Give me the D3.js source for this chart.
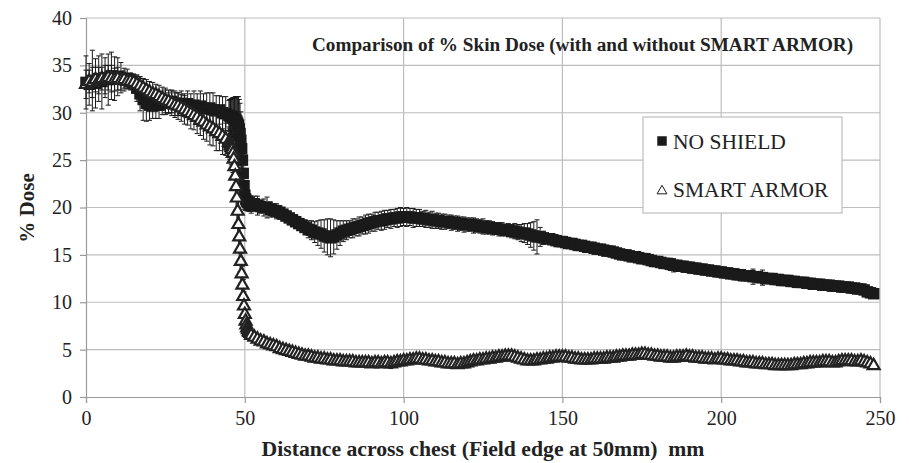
<!DOCTYPE html>
<html>
<head>
<meta charset="utf-8">
<title>Comparison of % Skin Dose</title>
<script src="https://cdn.jsdelivr.net/npm/d3@7"></script>
<style>
  body { margin: 0; background: #fff; }
  svg text { font-family: "Liberation Serif", "Times New Roman", serif; fill: #222; }
</style>
</head>
<body>
<svg id="chart" width="909" height="463"></svg>
<script>
// distance across chest (mm) - finer sampling around the field edge
const distance = [
  0,1,2,3,4,5,6,7,8,9,10,11,12,13,14,15,16,17,18,19,20,21,22,23,24,25,26,27,28,29,
  30,31,32,33,34,35,36,37,38,39,40,41,42,43,44,45,
  45.25,45.5,45.75,46,46.25,46.5,46.75,47,47.25,47.5,47.75,48,48.25,48.5,48.75,49,
  49.25,49.5,49.75,50,50.25,50.5,50.75,51,51.25,51.5,51.75,
  52,53,54,55,56,57,58,59,60,61,62,63,64,65,66,67,68,69,70,71,
  72,73,74,75,76,77,78,79,80,81,82,83,84,85,86,87,88,89,90,91,
  92,93,94,95,96,97,98,99,100,101,102,103,104,105,106,107,108,109,110,111,
  112,113,114,115,116,117,118,119,120,121,122,123,124,125,126,127,128,129,130,131,
  132,133,134,135,136,137,138,139,140,141,142,143,144,145,146,147,148,149,150,151,
  152,153,154,155,156,157,158,159,160,161,162,163,164,165,166,167,168,169,170,171,
  172,173,174,175,176,177,178,179,180,181,182,183,184,185,186,187,188,189,190,191,
  192,193,194,195,196,197,198,199,200,201,202,203,204,205,206,207,208,209,210,211,
  212,213,214,215,216,217,218,219,220,221,222,223,224,225,226,227,228,229,230,231,
  232,233,234,235,236,237,238,239,240,241,242,243,244,245,246,247,248
];

// NO SHIELD (% dose) and its error
const noShield = [
  33.2,33.0,33.4,33.1,33.6,33.3,33.7,33.5,33.9,33.6,
  33.8,33.7,33.5,33.6,33.3,33.1,32.6,32.0,31.4,31.0,
  30.8,30.7,30.9,30.8,31.0,31.1,31.0,31.2,31.0,30.9,
  31.0,30.8,30.9,30.7,30.8,30.6,30.7,30.5,30.4,30.5,
  30.3,30.2,30.3,30.0,29.9,29.7,
  29.7,29.6,29.6,29.5,29.5,29.4,29.3,29.3,29.2,29.1,28.9,28.7,28.3,27.8,27.1,26.2,
  25.0,23.6,22.3,21.3,20.9,20.7,20.6,20.5,20.5,20.4,20.4,
  20.3,20.4,20.2,20.1,20.0,20.0,19.8,19.7,19.6,19.5,
  19.3,19.1,18.9,18.7,18.5,18.3,18.1,17.9,17.7,17.6,
  17.4,17.3,17.2,17.0,16.9,16.8,16.9,17.1,17.3,17.5,
  17.6,17.7,17.8,17.9,18.0,18.1,18.2,18.3,18.4,18.5,
  18.6,18.6,18.7,18.8,18.8,18.9,18.9,19.0,19.0,19.0,
  19.0,18.9,18.9,18.9,18.8,18.8,18.7,18.7,18.6,18.6,
  18.5,18.5,18.5,18.4,18.4,18.3,18.3,18.2,18.2,18.2,
  18.1,18.1,18.0,18.0,17.9,17.9,17.8,17.8,17.7,17.7,
  17.6,17.6,17.5,17.5,17.4,17.3,17.3,17.2,17.1,17.0,
  16.9,16.9,16.8,16.7,16.7,16.6,16.5,16.4,16.4,16.3,
  16.2,16.2,16.1,16.0,16.0,15.9,15.8,15.8,15.7,15.6,
  15.6,15.5,15.4,15.4,15.3,15.2,15.1,15.0,15.0,14.9,
  14.8,14.8,14.7,14.6,14.6,14.5,14.4,14.3,14.3,14.2,
  14.1,14.1,14.0,13.9,13.9,13.8,13.8,13.7,13.7,13.6,
  13.6,13.5,13.5,13.4,13.4,13.3,13.3,13.2,13.2,13.1,
  13.1,13.0,13.0,12.9,12.9,12.8,12.8,12.8,12.7,12.7,
  12.6,12.6,12.5,12.5,12.5,12.4,12.4,12.3,12.3,12.3,
  12.2,12.2,12.1,12.1,12.1,12.0,12.0,11.9,11.9,11.9,
  11.8,11.8,11.8,11.7,11.7,11.7,11.6,11.6,11.6,11.5,
  11.5,11.4,11.4,11.3,11.1,11.0,10.9
];
const noShieldErr = [
  2.8,2.2,3.2,2.6,2.4,2.9,2.1,2.7,2.5,2.3,
  2.0,1.6,1.2,1.0,0.9,1.0,1.4,1.8,2.2,1.9,
  1.6,1.3,1.5,1.4,1.2,1.3,1.1,1.2,1.3,1.2,
  1.3,1.2,1.4,1.3,1.5,1.4,1.6,1.5,1.7,1.6,
  1.8,1.6,1.5,1.7,1.8,1.6,
  1.7,1.8,1.9,2.0,2.1,2.2,2.3,2.4,2.5,2.6,2.8,3.0,3.1,3.2,3.0,2.8,
  2.5,2.2,1.8,1.5,1.2,1.0,0.9,0.9,0.8,0.8,0.8,
  0.9,0.8,1.0,0.7,0.9,1.1,0.8,0.7,0.8,0.7,
  0.7,0.6,0.7,0.6,0.6,0.7,0.7,0.8,0.9,1.0,
  1.1,1.3,1.5,1.7,1.9,2.0,1.8,1.5,1.3,1.1,
  1.0,0.9,1.0,0.9,1.0,0.9,1.0,1.0,0.9,1.0,
  0.9,1.0,1.0,0.9,1.0,0.9,1.0,1.0,0.9,1.0,
  0.9,1.0,0.9,0.9,0.8,0.9,0.8,0.9,0.8,0.8,
  0.8,0.8,0.7,0.8,0.7,0.8,0.7,0.8,0.7,0.7,
  0.8,0.7,0.7,0.8,0.7,0.7,0.7,0.6,0.7,0.7,
  0.6,0.7,0.7,0.8,0.8,0.9,1.0,1.1,1.3,1.5,
  1.8,1.0,0.7,0.5,0.4,0.4,0.3,0.3,0.4,0.3,
  0.3,0.3,0.4,0.3,0.3,0.3,0.3,0.4,0.3,0.3,
  0.3,0.4,0.3,0.3,0.3,0.3,0.4,0.3,0.3,0.3,
  0.3,0.3,0.3,0.4,0.3,0.3,0.3,0.3,0.4,0.3,
  0.3,0.3,0.3,0.7,0.3,0.3,0.3,0.4,0.3,0.3,
  0.3,0.3,0.4,0.3,0.3,0.3,0.3,0.3,0.4,0.3,
  0.3,0.3,0.3,0.3,0.4,0.3,0.3,0.3,0.8,0.3,
  0.3,0.8,0.3,0.3,0.3,0.3,0.4,0.3,0.3,0.5,
  0.3,0.3,0.3,0.4,0.3,0.3,0.3,0.3,0.3,0.4,
  0.3,0.3,0.3,0.3,0.3,0.4,0.3,0.3,0.3,0.3,
  0.3,0.3,0.4,0.3,0.3,0.3,0.3
];

// SMART ARMOR (% dose) and its error
const smartArmor = [
  33.0,33.3,33.2,33.5,33.4,33.6,33.5,33.7,33.6,33.5,
  33.6,33.4,33.5,33.3,33.3,33.2,33.0,32.8,32.6,32.4,
  32.2,32.0,31.9,31.7,31.5,31.3,31.2,31.0,30.8,30.7,
  30.5,30.3,30.1,29.9,29.7,29.5,29.2,29.0,28.7,28.5,
  28.3,28.0,27.8,27.5,27.2,26.9,
  26.7,26.5,26.3,26.1,25.7,25.1,24.3,23.3,22.2,21.0,19.6,18.2,16.9,15.6,14.3,13.0,
  11.8,10.6,9.6,8.7,8.0,7.6,7.3,7.1,6.9,6.8,6.7,
  6.5,6.3,6.1,5.9,5.8,5.6,5.5,5.4,5.3,5.1,
  5.0,4.9,4.8,4.7,4.6,4.5,4.4,4.3,4.3,4.2,
  4.1,4.1,4.0,4.0,3.9,3.9,3.8,3.8,3.8,3.7,
  3.7,3.7,3.7,3.6,3.6,3.6,3.6,3.6,3.5,3.6,
  3.6,3.5,3.6,3.6,3.5,3.6,3.7,3.7,3.8,3.8,
  3.9,3.9,4.0,4.0,3.9,3.9,3.8,3.8,3.7,3.7,
  3.6,3.6,3.5,3.5,3.5,3.4,3.5,3.5,3.6,3.7,
  3.8,3.8,3.9,3.9,4.0,4.0,4.1,4.1,4.2,4.2,
  4.3,4.3,4.3,4.2,4.1,4.0,3.9,3.8,3.8,3.8,
  3.9,3.9,4.0,4.0,4.1,4.1,4.2,4.2,4.2,4.2,
  4.1,4.1,4.0,4.0,3.9,3.9,3.9,3.9,4.0,4.0,
  4.0,4.0,4.1,4.1,4.1,4.2,4.2,4.3,4.3,4.3,
  4.4,4.4,4.4,4.5,4.5,4.4,4.4,4.3,4.3,4.2,
  4.2,4.2,4.1,4.1,4.2,4.2,4.2,4.3,4.2,4.2,
  4.1,4.1,4.1,4.0,4.0,4.0,3.9,4.0,4.0,3.9,
  3.9,3.8,3.8,3.8,3.7,3.7,3.6,3.6,3.6,3.5,
  3.5,3.5,3.4,3.4,3.4,3.3,3.3,3.3,3.3,3.3,
  3.3,3.4,3.4,3.4,3.5,3.5,3.6,3.6,3.6,3.6,
  3.7,3.7,3.7,3.6,3.6,3.7,3.8,3.8,3.8,3.8,
  3.7,3.7,3.8,3.7,3.6,3.5,3.3
];
const smartArmorErr = [
  1.5,1.2,1.6,1.3,1.4,1.2,1.5,1.3,1.4,1.2,
  1.2,1.0,0.9,0.8,0.7,0.8,0.9,1.0,1.0,1.1,
  1.1,1.2,1.1,1.2,1.2,1.3,1.2,1.3,1.3,1.4,
  1.4,1.5,1.4,1.6,1.5,1.7,1.6,1.8,1.7,1.9,
  1.8,2.0,1.8,1.9,1.7,1.6,
  1.6,1.7,1.8,1.9,2.0,2.1,2.2,2.4,2.5,2.6,2.6,2.6,2.5,2.4,2.3,2.2,
  2.0,1.8,1.5,1.2,1.0,0.8,0.6,0.5,0.4,0.4,0.3,
  0.5,0.4,0.4,0.4,0.3,0.3,0.3,0.3,0.3,0.3,
  0.3,0.3,0.3,0.3,0.3,0.3,0.3,0.3,0.3,0.3,
  0.3,0.3,0.3,0.3,0.3,0.3,0.3,0.3,0.3,0.3,
  0.3,0.3,0.3,0.3,0.3,0.3,0.3,0.3,0.3,0.3,
  0.3,0.3,0.3,0.3,0.5,0.3,0.3,0.3,0.3,0.3,
  0.3,0.3,0.3,0.3,0.3,0.3,0.3,0.3,0.3,0.3,
  0.3,0.3,0.3,0.3,0.3,0.3,0.4,0.3,0.3,0.3,
  0.3,0.3,0.3,0.3,0.3,0.3,0.3,0.3,0.3,0.3,
  0.3,0.3,0.3,0.3,0.3,0.3,0.3,0.3,0.3,0.3,
  0.3,0.3,0.3,0.3,0.3,0.3,0.3,0.3,0.3,0.3,
  0.3,0.3,0.3,0.3,0.3,0.3,0.3,0.3,0.3,0.3,
  0.3,0.3,0.3,0.3,0.3,0.3,0.3,0.3,0.3,0.3,
  0.3,0.3,0.3,0.3,0.3,0.3,0.3,0.3,0.3,0.3,
  0.3,0.3,0.3,0.3,0.3,0.3,0.3,0.3,0.3,0.3,
  0.3,0.3,0.3,0.3,0.3,0.3,0.3,0.3,0.3,0.3,
  0.3,0.3,0.3,0.3,0.3,0.3,0.3,0.3,0.3,0.3,
  0.3,0.3,0.3,0.3,0.3,0.3,0.3,0.3,0.3,0.3,
  0.3,0.3,0.3,0.3,0.3,0.3,0.3,0.3,0.3,0.3,
  0.3,0.3,0.3,0.3,0.3,0.3,0.3,0.3,0.3,0.3,
  0.3,0.3,0.3,0.3,0.3,0.3,0.3
];

const xTicks = [0, 50, 100, 150, 200, 250];
const yTicks = [0, 5, 10, 15, 20, 25, 30, 35, 40];
const seriesNames = ["NO SHIELD", "SMART ARMOR"];

[noShield, noShieldErr, smartArmor, smartArmorErr].forEach(function(a, k) {
  if (a.length !== distance.length) throw new Error("array " + k + " length " + a.length + " != " + distance.length);
});

const svg = d3.select("#chart");
const plotLeft = 86, plotRight = 880, plotTop = 18, plotBottom = 397;
const serif = '"Liberation Serif", "Times New Roman", serif';

const x = d3.scaleLinear().domain([0, 250]).range([plotLeft, plotRight]);
const y = d3.scaleLinear().domain([0, 40]).range([plotBottom, plotTop]);

// grid
svg.append("g").selectAll("line").data(yTicks.slice(1)).enter().append("line")
  .attr("x1", plotLeft).attr("x2", plotRight)
  .attr("y1", d => y(d)).attr("y2", d => y(d))
  .attr("stroke", "#bdbdbd").attr("stroke-width", 1.2);
svg.append("g").selectAll("line").data(xTicks.slice(1)).enter().append("line")
  .attr("x1", d => x(d)).attr("x2", d => x(d))
  .attr("y1", plotTop).attr("y2", plotBottom)
  .attr("stroke", "#bdbdbd").attr("stroke-width", 1.2);

// axes
const xAxis = svg.append("g").attr("transform", "translate(0," + plotBottom + ")")
  .call(d3.axisBottom(x).tickValues(xTicks).tickSize(6).tickPadding(8));
const yAxis = svg.append("g").attr("transform", "translate(" + plotLeft + ",0)")
  .call(d3.axisLeft(y).tickValues(yTicks).tickSize(6).tickPadding(8));
[xAxis, yAxis].forEach(function(g) {
  g.attr("font-family", serif).attr("font-size", 20);
  g.selectAll("path, line").attr("stroke", "#9a9a9a").attr("stroke-width", 1.2);
  g.selectAll("text").attr("fill", "#222");
});

const nsPts = distance.map((d, i) => ({ x: d, v: noShield[i], e: noShieldErr[i] }));
const saPts = distance.map((d, i) => ({ x: d, v: smartArmor[i], e: smartArmorErr[i] }));

function errorBars(pts, color) {
  const g = svg.append("g").attr("stroke", color).attr("stroke-width", 1);
  const cap = 2.5;
  g.selectAll("path").data(pts).enter().append("path")
    .attr("d", function(p) {
      const cx = x(p.x), y0 = y(p.v - p.e), y1 = y(p.v + p.e);
      return "M" + cx + "," + y0 + "V" + y1 +
        "M" + (cx - cap) + "," + y0 + "H" + (cx + cap) +
        "M" + (cx - cap) + "," + y1 + "H" + (cx + cap);
    })
    .attr("fill", "none");
}

const square = d3.symbol().type(d3.symbolSquare).size(132);
const triangle = d3.symbol().type(d3.symbolTriangle).size(62);

// NO SHIELD
errorBars(nsPts, "#1a1a1a");
svg.append("g").selectAll("path").data(nsPts).enter().append("path")
  .attr("d", square)
  .attr("transform", p => "translate(" + x(p.x) + "," + y(p.v) + ")")
  .attr("fill", "#1a1a1a");

// SMART ARMOR
errorBars(saPts, "#1a1a1a");
svg.append("g").selectAll("path").data(saPts).enter().append("path")
  .attr("d", triangle)
  .attr("transform", p => "translate(" + x(p.x) + "," + y(p.v) + ")")
  .attr("fill", "#fff").attr("stroke", "#222").attr("stroke-width", 2.2);

// title
svg.append("text").attr("x", 312).attr("y", 51)
  .attr("font-size", "19.2px").attr("font-weight", "bold")
  .text("Comparison of % Skin Dose (with and without SMART ARMOR)");

// legend
const lg = svg.append("g");
lg.append("rect").attr("x", 643).attr("y", 117).attr("width", 199).attr("height", 96)
  .attr("fill", "#fff").attr("stroke", "#bdbdbd").attr("stroke-width", 1.2);
lg.append("path").attr("d", d3.symbol().type(d3.symbolSquare).size(90)).attr("transform", "translate(662,141)").attr("fill", "#1a1a1a");
lg.append("path").attr("d", d3.symbol().type(d3.symbolTriangle).size(42)).attr("transform", "translate(662,191)")
  .attr("fill", "#fff").attr("stroke", "#1a1a1a").attr("stroke-width", 1);
lg.selectAll("text.item").data(seriesNames).enter().append("text")
  .attr("class", "item")
  .attr("x", 673).attr("y", (d, i) => 149 + i * 48)
  .attr("font-size", "21.5px")
  .text(d => d);

// axis titles
svg.append("text").attr("x", (plotLeft + plotRight) / 2).attr("y", 456)
  .attr("text-anchor", "middle").attr("font-size", "21.7px").attr("font-weight", "bold")
  .attr("xml:space", "preserve")
  .text("Distance across chest (Field edge at 50mm)  mm");
svg.append("text").attr("transform", "translate(34,208) rotate(-90)")
  .attr("text-anchor", "middle").attr("font-size", "21px").attr("font-weight", "bold")
  .text("% Dose");
</script>
</body>
</html>
